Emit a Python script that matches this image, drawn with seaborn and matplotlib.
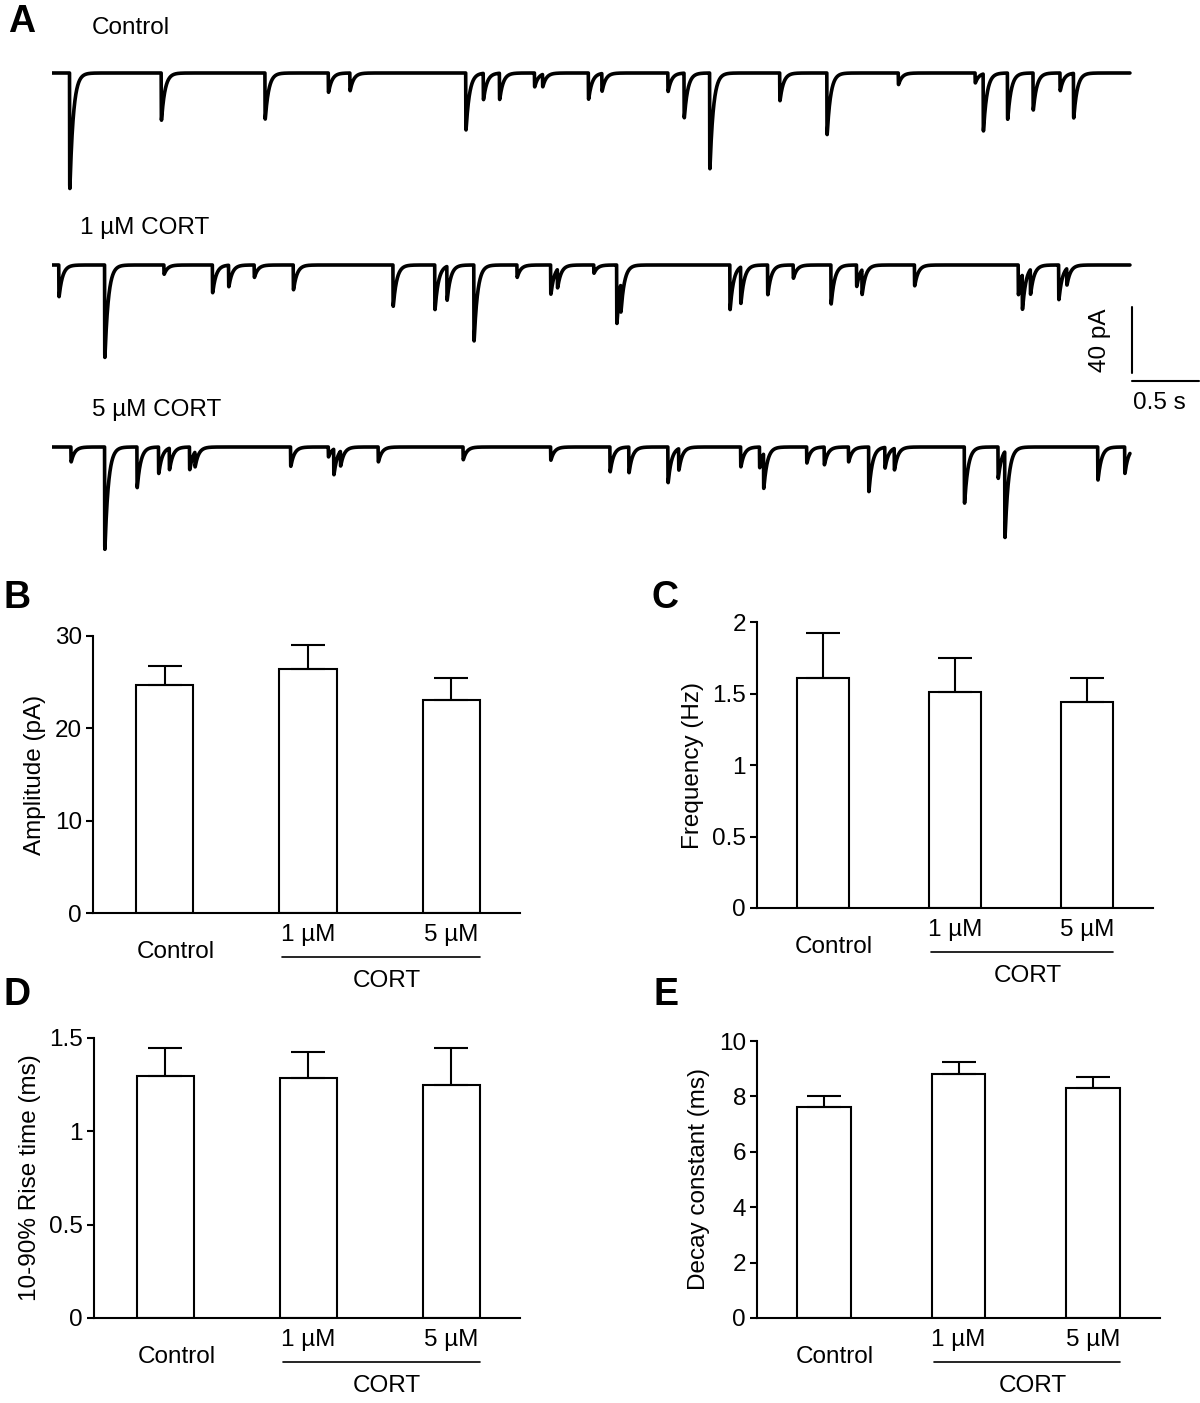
import numpy as np
import pandas as pd
import matplotlib
matplotlib.use("Agg")
import matplotlib.pyplot as plt
import matplotlib.transforms as mtransforms
import seaborn as sns

# ==============================
# DATA
# ==============================
groups = ["Control", "1 µM", "5 µM"]

amp_mean = [24.7, 26.4, 23.1]
amp_sem = [2.0, 2.6, 2.4]

freq_mean = [1.61, 1.51, 1.44]
freq_sem = [0.31, 0.24, 0.17]

rise_mean = [1.296, 1.286, 1.248]
rise_sem = [0.15, 0.14, 0.20]

decay_mean = [7.62, 8.81, 8.30]
decay_sem = [0.40, 0.43, 0.40]

# spontaneous events: time (s), amplitude (pA)
ctrl_t = [0.13, 0.81, 1.58, 2.05, 2.21, 3.07, 3.20, 3.32, 3.58, 3.64, 3.98,
          4.08, 4.57, 4.69, 4.88, 5.40, 5.75, 6.28, 6.85, 6.91, 7.09, 7.28,
          7.48, 7.58]
ctrl_a = [70, 28.6, 27.9, 11.7, 10.7, 34.5, 15.9, 15.9, 8.4, 7.5, 15.9,
          10.7, 11.2, 27, 58, 16.8, 37.3, 7, 6, 34.5, 28, 22.4,
          10.7, 27]

cort1_t = [0.05, 0.39, 0.83, 1.19, 1.31, 1.50, 1.79, 2.53, 2.84, 2.93, 3.13,
           3.45, 3.70, 3.75, 4.02, 4.19, 4.22, 5.03, 5.11, 5.31, 5.50, 5.78,
           5.97, 6.01, 6.40, 7.17, 7.20, 7.26, 7.47, 7.53]
cort1_a = [19.2, 56, 5.6, 16.8, 13, 7.5, 15, 25, 27, 20.5, 46,
           7.5, 17.7, 11.2, 5, 35.4, 17, 27, 22, 18, 8, 23.6,
           13, 15, 12.6, 18, 21, 15, 21, 10]

cort5_t = [0.14, 0.39, 0.63, 0.79, 0.87, 1.02, 1.06, 1.77, 2.05, 2.09, 2.14,
           2.42, 3.05, 3.70, 4.14, 4.28, 4.57, 4.65, 5.11, 5.25, 5.28, 5.60,
           5.73, 5.91, 6.06, 6.18, 6.25, 6.77, 7.02, 7.07, 7.76, 7.96]
cort5_a = [9, 62, 24.6, 16, 13, 13.7, 9, 11.7, 6, 15.5, 9,
           9, 7.7, 8, 15, 15.5, 21.6, 13, 12, 12.5, 21, 9.7,
           10.7, 9, 27, 12.5, 13, 34, 19, 52, 20, 16]

trace_names = ["Control", "1 µM CORT", "5 µM CORT"]

# ==============================
# FIGURE SETUP
# ==============================
sns.set_style("ticks")
plt.rcParams["font.family"] = ["Liberation Sans", "DejaVu Sans"]
plt.rcParams["axes.linewidth"] = 1.5
for key in ["text.color", "axes.labelcolor", "xtick.color", "ytick.color",
            "axes.edgecolor"]:
    plt.rcParams[key] = "black"

FS = 17.5
W, H = 1200, 1403
fig = plt.figure(figsize=(W / 100, H / 100), dpi=100)


def px_axes(left, top, right, bottom):
    return fig.add_axes([left / W, 1 - bottom / H, (right - left) / W, (bottom - top) / H])


# ==============================
# PANEL A - TRACES
# ==============================
PX_PER_S = 134.75
PX_PER_PA = 1.65
axA = px_axes(52, 10, 1200, 565)
axA.set_xlim(0, 1148 / PX_PER_S)
axA.set_ylim(-555 / PX_PER_PA, 0)
axA.axis("off")

t = np.arange(0, 8.0, 0.0005)
kt = np.arange(0, 0.4, 0.0005)
kern = (1 - np.exp(-kt / 0.0006)) * np.exp(-kt / 0.026)
kern = kern / kern.max()


def make_trace(times, amps):
    y = np.zeros_like(t)
    for t0, a in zip(times, amps):
        i0 = int(round(t0 / 0.0005))
        n = min(len(kern), len(t) - i0)
        y[i0:i0 + n] -= a * kern[:n]
    return y


baselines_px = [73, 265, 447]
events = [(ctrl_t, ctrl_a), (cort1_t, cort1_a), (cort5_t, cort5_a)]
for (et, ea), bpx in zip(events, baselines_px):
    off = -(bpx - 10) / PX_PER_PA
    df = pd.DataFrame({"t": t, "I": make_trace(et, ea) + off})
    sns.lineplot(data=df, x="t", y="I", ax=axA, color="black", lw=2.6,
                 estimator=None, sort=False)

label_px = [(92, 28), (80, 228), (92, 410)]
for name, (lx, ly) in zip(trace_names, label_px):
    axA.text((lx - 52) / PX_PER_S, -(ly - 10) / PX_PER_PA, name,
             fontsize=FS, ha="left", va="center")

# scale bars
sx = (1132 - 52) / PX_PER_S
sy_top = -(307 - 10) / PX_PER_PA
axA.plot([sx, sx], [sy_top, sy_top - 40], color="black", lw=1.5)
hy = -(381 - 10) / PX_PER_PA
axA.plot([sx, sx + 0.5], [hy, hy], color="black", lw=1.5)
axA.text((1100 - 52) / PX_PER_S, sy_top - 20, "40 pA", rotation=90,
         fontsize=FS, ha="center", va="center")
axA.text(sx + 0.01, -(403 - 10) / PX_PER_PA, "0.5 s", fontsize=FS,
         ha="left", va="center")


# ==============================
# PANELS B-E - BAR CHARTS
# ==============================
def bar_panel(ax, means, sems, ylabel, ticks, ticklabels, xright):
    sns.barplot(x=groups, y=means, ax=ax, color="white", edgecolor="black",
                linewidth=1.5, width=0.4, errorbar=None, saturation=1)
    ax.errorbar(range(3), means, yerr=[np.zeros(3), sems], fmt="none",
                ecolor="black", elinewidth=1.5, capsize=12, capthick=1.5,
                zorder=1)
    ax.set_xlim(-0.5, xright)
    ax.set_ylim(0, ticks[-1])
    ax.set_yticks(ticks)
    ax.set_yticklabels(ticklabels)
    ax.set_xticks([])
    ax.set_xlabel("")
    ax.set_ylabel(ylabel, fontsize=FS, labelpad=6)
    ax.tick_params(axis="y", direction="out", length=5, width=1.5,
                   labelsize=FS, pad=3)
    sns.despine(ax=ax)

    ax_h = ax.get_position().height * H
    trans = mtransforms.blended_transform_factory(ax.transData, ax.transAxes)
    ax.text(1, -22 / ax_h, "1 µM", transform=trans, ha="center", va="center",
            fontsize=FS)
    ax.text(2, -22 / ax_h, "5 µM", transform=trans, ha="center", va="center",
            fontsize=FS)
    ax.text(0.08, -39 / ax_h, "Control", transform=trans, ha="center",
            va="center", fontsize=FS)
    ax.plot([0.82, 2.2], [-44 / ax_h, -44 / ax_h], transform=trans,
            color="black", lw=1.2, clip_on=False)
    ax.text(1.55, -68 / ax_h, "CORT", transform=trans, ha="center",
            va="center", fontsize=FS)


axB = px_axes(93, 636, 520, 913)
bar_panel(axB, amp_mean, amp_sem, "Amplitude (pA)", [0, 10, 20, 30],
          ["0", "10", "20", "30"], 2.48)

axC = px_axes(757, 622, 1153, 908)
bar_panel(axC, freq_mean, freq_sem, "Frequency (Hz)", [0, 0.5, 1, 1.5, 2],
          ["0", "0.5", "1", "1.5", "2"], 2.5)

axD = px_axes(94, 1038, 520, 1318)
bar_panel(axD, rise_mean, rise_sem, "10-90% Rise time (ms)", [0, 0.5, 1, 1.5],
          ["0", "0.5", "1", "1.5"], 2.48)

axE = px_axes(757, 1041, 1160, 1318)
bar_panel(axE, decay_mean, decay_sem, "Decay constant (ms)",
          [0, 2, 4, 6, 8, 10], ["0", "2", "4", "6", "8", "10"], 2.5)

# panel letters
for letter, (lx, ly) in zip("ABCDE", [(22, 22), (17, 598), (665, 598),
                                      (17, 995), (666, 995)]):
    fig.text(lx / W, 1 - ly / H, letter, fontsize=27, fontweight="bold",
             ha="center", va="center")

fig.savefig("out.png", dpi=100)
plt.close(fig)
